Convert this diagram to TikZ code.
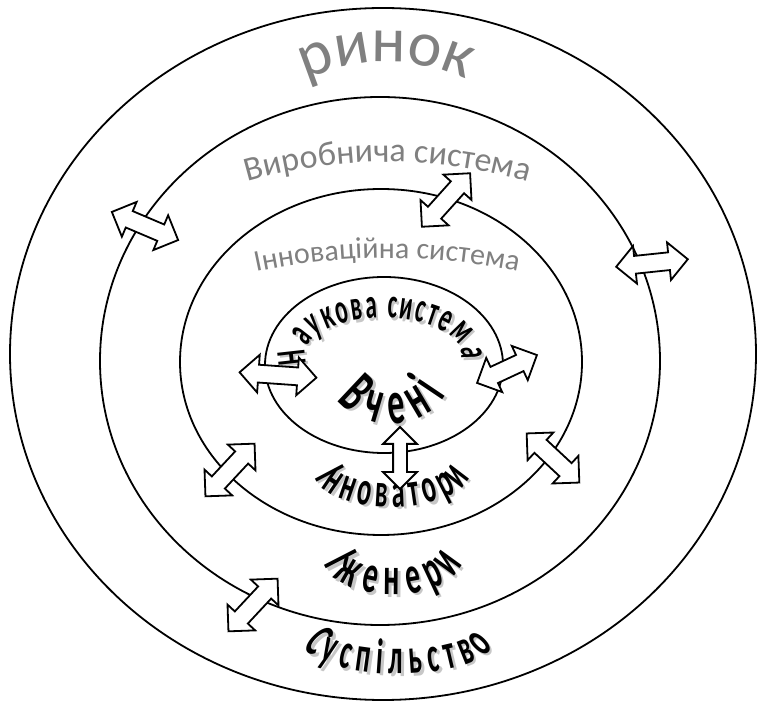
\documentclass[tikz,border=0pt]{standalone}
\usepackage{fontspec}
\setmainfont{Carlito}
\newfontfamily\artfont[FakeStretch=0.55]{Carlito}
\usetikzlibrary{shapes.geometric,shapes.arrows,decorations.text}
\colorlet{ringgray}{black!50}
\colorlet{shadowgray}{black!22}
\tikzset{
  ring/.style={draw, ellipse, line width=1.8pt, inner sep=0pt},
  flow arrow/.style={double arrow, draw, fill=white, line width=1.8pt, minimum height=72pt, inner xsep=0pt, inner ysep=8pt, double arrow head extend=10pt},
  arc text/.style={decorate, decoration={text along path, text align=center, text={#1}}},
  fit text/.style={decorate, decoration={text along path, text align={fit to path}, text={#1}}},
  shadow copy/.style={shift={(2.5,-2.5)}},
}

\begin{document}
\begin{tikzpicture}[x=1pt, y=1pt]
  \useasboundingbox (0,0) rectangle (758,702);
  % rings
  \node[ring, minimum width=746pt, minimum height=692pt] (market) at (383,348) {};
  \node[ring, minimum width=560pt, minimum height=528pt] (prod) at (380,341) {};
  \node[ring, minimum width=402pt, minimum height=346pt] (innov) at (381,340) {};
  \node[ring, minimum width=238pt, minimum height=176pt] (sci) at (384,337) {};

  % grey titles of the rings
  \path[arc text={|\fontsize{64}{64}\selectfont\color{ringgray}|ринок}] (386,450) ++(120:190pt) arc[start angle=120, end angle=60, radius=190pt];
  \path[arc text={|\fontsize{34}{34}\selectfont\color{ringgray}|Виробнича система}] (388,37) ++(108:503pt) arc[start angle=108, end angle=72, radius=503pt];
  \path[arc text={|\fontsize{30}{30}\selectfont\color{ringgray}|Інноваційна система}] (387,-180) ++(105:624pt) arc[start angle=105, end angle=75, radius=624pt];

  % black warped words
  \path[shadow copy, fit text={|\artfont\bfseries\fontsize{42}{42}\selectfont\color{shadowgray}|Наукова система}] (383,348) ++(194:78pt and 36pt) arc[start angle=194, end angle=-8, x radius=78pt, y radius=36pt];
  \path[fit text={|\artfont\bfseries\fontsize{42}{42}\selectfont|Наукова система}] (383,348) ++(194:78pt and 36pt) arc[start angle=194, end angle=-8, x radius=78pt, y radius=36pt];
  \path[shadow copy, fit text={|\artfont\bfseries\fontsize{62}{62}\selectfont\color{shadowgray}|Вчені}] (390,330) ++(212:62pt and 52pt) arc[start angle=212, end angle=335, x radius=62pt, y radius=52pt];
  \path[fit text={|\artfont\bfseries\fontsize{62}{62}\selectfont|Вчені}] (390,330) ++(212:62pt and 52pt) arc[start angle=212, end angle=335, x radius=62pt, y radius=52pt];
  \path[shadow copy, fit text={|\artfont\bfseries\fontsize{48}{48}\selectfont\color{shadowgray}|Інноватори}] (392,230) ++(188:78pt and 35pt) arc[start angle=188, end angle=352, x radius=78pt, y radius=35pt];
  \path[fit text={|\artfont\bfseries\fontsize{48}{48}\selectfont|Інноватори}] (392,230) ++(188:78pt and 35pt) arc[start angle=188, end angle=352, x radius=78pt, y radius=35pt];
  \path[shadow copy, fit text={|\artfont\bfseries\fontsize{54}{54}\selectfont\color{shadowgray}|Іженери}] (393,145) ++(190:70pt and 38pt) arc[start angle=190, end angle=350, x radius=70pt, y radius=38pt];
  \path[fit text={|\artfont\bfseries\fontsize{54}{54}\selectfont|Іженери}] (393,145) ++(190:70pt and 38pt) arc[start angle=190, end angle=350, x radius=70pt, y radius=38pt];
  \path[shadow copy, fit text={|\artfont\bfseries\fontsize{50}{50}\selectfont\color{shadowgray}|Суспільство}] (398,60) ++(187:95pt and 32pt) arc[start angle=187, end angle=353, x radius=95pt, y radius=32pt];
  \path[fit text={|\artfont\bfseries\fontsize{50}{50}\selectfont|Суспільство}] (398,60) ++(187:95pt and 32pt) arc[start angle=187, end angle=353, x radius=95pt, y radius=32pt];

  % exchange arrows
  \node[flow arrow, rotate=-23] (a1) at (145,476) {};
  \node[flow arrow, rotate=48] (a2) at (446,502) {};
  \node[flow arrow, rotate=6] (a3) at (652,439) {};
  \node[flow arrow, rotate=-4, minimum height=77pt] (a4) at (278,327) {};
  \node[flow arrow, rotate=25, minimum height=66pt] (a5) at (507,333) {};
  \node[flow arrow, rotate=90, minimum height=62pt, inner ysep=6pt] (a6) at (400,244) {};
  \node[flow arrow, rotate=47] (a7) at (230,232) {};
  \node[flow arrow, rotate=-43] (a8) at (553,244) {};
  \node[flow arrow, rotate=47] (a9) at (253,97) {};
\end{tikzpicture}
\end{document}
